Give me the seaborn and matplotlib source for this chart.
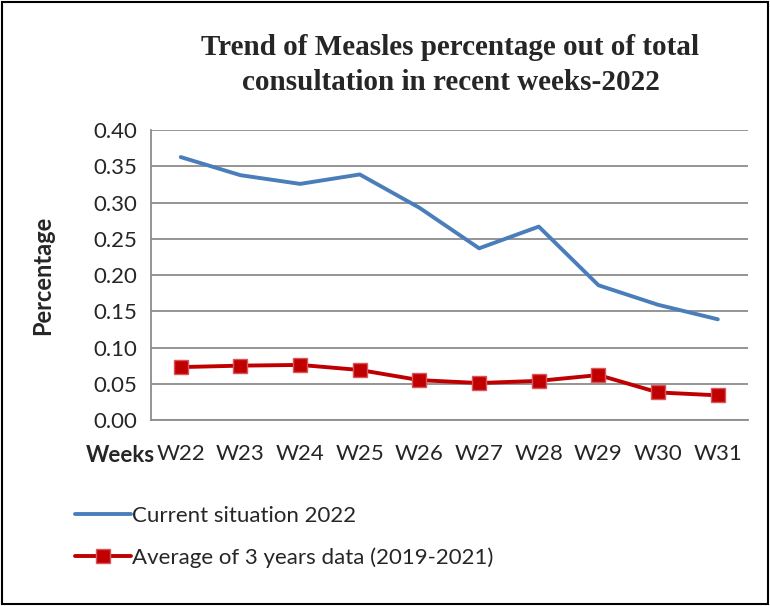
import matplotlib
matplotlib.use('Agg')
import matplotlib.pyplot as plt
import seaborn as sns
import pandas as pd
import numpy as np
from matplotlib.patches import Rectangle

# data
weeks = ['W22', 'W23', 'W24', 'W25', 'W26', 'W27', 'W28', 'W29', 'W30', 'W31']
current_2022 = [0.363, 0.338, 0.326, 0.339, 0.293, 0.237, 0.267, 0.186, 0.159, 0.139]
avg_3_years = [0.073, 0.075, 0.076, 0.069, 0.055, 0.051, 0.054, 0.062, 0.038, 0.034]

df = pd.DataFrame({'pos': np.arange(len(weeks)), 'week': weeks,
                   'current': current_2022, 'avg': avg_3_years})

sns.set_style('white')
plt.rcParams['font.family'] = ['Lato', 'DejaVu Sans']

fig = plt.figure(figsize=(7.7, 6.06), dpi=100)
ax = fig.add_axes([0.196, 0.307, 0.775, 0.478])

sns.lineplot(x='pos', y='current', data=df, ax=ax, color='#4A7EBB', linewidth=2.8,
             label='Current situation 2022')
sns.lineplot(x='pos', y='avg', data=df, ax=ax, color='#C00000', linewidth=2.8,
             marker='s', markersize=10, markeredgecolor='#D9565A', markeredgewidth=1,
             label='Average of 3 years data (2019-2021)')

ax.set_ylim(0, 0.40)
ax.set_xlim(-0.5, len(weeks) - 0.5)
ax.set_yticks(np.arange(0, 0.401, 0.05))
ax.set_yticklabels([f'{v:.2f}' for v in np.arange(0, 0.401, 0.05)], fontsize=16)
ax.yaxis.grid(True, color='#8C8C8C', linewidth=1.3)
ax.set_axisbelow(True)

# category boundaries as ticks, labels in the middle
ax.set_xticks(np.arange(-0.5, len(weeks), 1.0))
ax.set_xticklabels([])
ax.set_xticks(df['pos'], minor=True)
ax.set_xticklabels(weeks, minor=True, fontsize=16)
ax.tick_params(axis='x', which='major', length=7, color='#8C8C8C', width=1.3, direction='out')
ax.tick_params(axis='x', which='minor', length=0, pad=17)
ax.tick_params(axis='y', length=6, color='#8C8C8C', width=1.3, direction='out', pad=4)

for s in ['top', 'right']:
    ax.spines[s].set_visible(False)
for s in ['left', 'bottom']:
    ax.spines[s].set_color('#8C8C8C')
    ax.spines[s].set_linewidth(1.3)

ax.set_xlabel('')
ax.set_ylabel('Percentage', fontsize=17, fontweight='bold', labelpad=28)
ax.text(0.006, -0.122, 'Weeks', transform=ax.transAxes, fontsize=16,
        fontweight='bold', ha='right', va='center')

fig.text(0.585, 0.922, 'Trend of Measles percentage out of total', ha='center', va='center',
         fontsize=21, fontweight='bold', family='Liberation Serif')
fig.text(0.585, 0.864, 'consultation in recent weeks-2022', ha='center', va='center',
         fontsize=21, fontweight='bold', family='Liberation Serif')

ax.legend(loc='upper left', bbox_to_anchor=(0.072, 0.198), bbox_transform=fig.transFigure,
          frameon=False, fontsize=16, handlelength=2.5, handletextpad=0.05, labelspacing=0.95)

fig.patches.append(Rectangle((0.003, 0.003), 0.994, 0.994, transform=fig.transFigure,
                             fill=False, edgecolor='black', linewidth=1.5))

fig.savefig('out.png', dpi=100)
